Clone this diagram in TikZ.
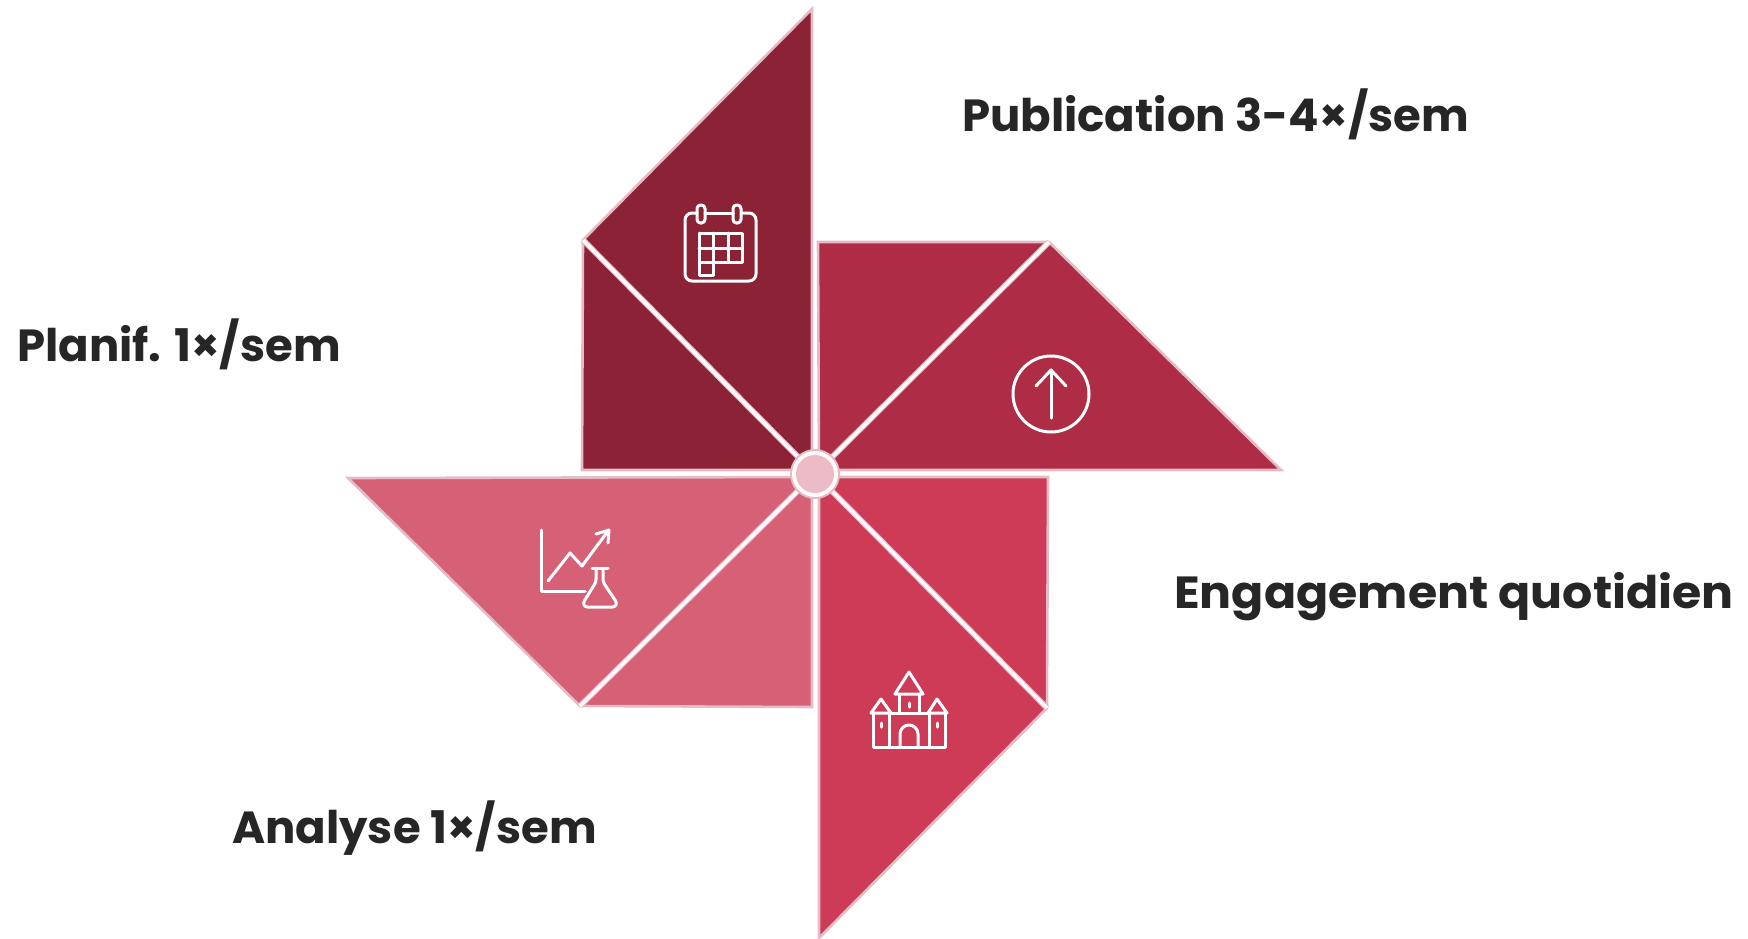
\documentclass[tikz,border=0pt]{standalone}
\usepackage{fontspec}
\usepackage{graphicx}
\setmainfont{Poppins}
\definecolor{cA}{HTML}{8B2236}
\definecolor{cB}{HTML}{AE2C45}
\definecolor{cC}{HTML}{CD3B56}
\definecolor{cD}{HTML}{D66177}
\definecolor{edge}{HTML}{E3BCC5}
\definecolor{hubfill}{HTML}{EDBBC6}
\definecolor{ink}{HTML}{262626}
\tikzset{x=1pt,y=-1pt,
 blade/.style={draw=edge,line width=2.6pt,line join=miter},
 fold/.style={draw=edge,line width=5.8pt},
 foldcore/.style={draw=white!88!edge,line width=3.6pt},
 icon/.style={draw=white,line width=3pt,line cap=round,line join=round},
 lab/.style={font=\bfseries\fontsize{45}{50}\selectfont,text=ink,inner sep=0pt,anchor=base west}}
\begin{document}
\begin{tikzpicture}
\useasboundingbox (0,0) rectangle (1748,938);
\coordinate (c) at (815,474);
% blades
\fill[cA] (812,9) -- (583,240) -- (582,470) -- (812,470) -- cycle;
\draw[blade] (812,9) -- (583,240) -- (582,470) -- (812,470) -- cycle;
\fill[cB] (818,242) -- (1049,242) -- (1281,470) -- (819,470) -- cycle;
\draw[blade] (818,242) -- (1049,242) -- (1281,470) -- (819,470) -- cycle;
\fill[cC] (819,477) -- (1048,477) -- (1047,708) -- (819,938) -- cycle;
\draw[blade] (819,477) -- (1048,477) -- (1047,708) -- (819,938) -- cycle;
\fill[cD] (348,478) -- (812,477) -- (812,707) -- (580,706) -- cycle;
\draw[blade] (348,478) -- (812,477) -- (812,707) -- (580,706) -- cycle;
% folds
\coordinate (f1) at (583,240);
\coordinate (f2) at (1049,242);
\coordinate (f3) at (1047,708);
\coordinate (f4) at (580,706);
\foreach \p in {f1,f2,f3,f4} {\draw[fold] (\p) -- (c); \draw[foldcore] (\p) -- (c);}
% hub
\fill[edge] (c) circle (25pt);
\fill[white!92!edge] (c) circle (23pt);
\node (hub) at (c) [circle,minimum size=38pt,inner sep=0pt,fill=hubfill] {};
% labels
\node[lab] (l1) at (962,131) {Publication 3-4×/sem};
\node[lab] (l2) at (17,361) {Planif. 1×/sem};
\node[lab] (l3) at (1174,608) {\scalebox{1.055}[1]{Engagement quotidien}};
\node[lab] (l4) at (232,843) {Analyse 1×/sem};
% calendar icon
\begin{scope}[icon]
\draw (697,213) -- (692,213) arc[start angle=90,end angle=180,radius=7pt] -- (685,274) arc[start angle=180,end angle=270,radius=7pt] -- (749,281) arc[start angle=270,end angle=360,radius=7pt]-- (756,220) arc[start angle=0,end angle=90,radius=7pt] -- (742,213);
\draw (705,213) -- (733,213);
\draw[rounded corners=3.5pt] (697,205) rectangle (705,223);
\draw[rounded corners=3.5pt] (733,205) rectangle (741,223);
\draw (699,233) rectangle (742,262);
\draw (699,233) -- (699,275) -- (713,275) -- (713,233);
\draw (728,233) -- (728,262);
\draw (699,248) -- (742,248);
\end{scope}
% upload icon
\begin{scope}[icon]
\draw (1051,394) circle (38pt);
\draw (1051,418) -- (1051,370);
\draw (1036,386) -- (1051,370) -- (1066,386);
\end{scope}
% chart and flask icon
\begin{scope}[icon]
\draw (541,530) -- (541,591) -- (585,591);
\draw (548,581) -- (570,553) -- (582,566) -- (608,531);
\draw (596,534) -- (609,530) -- (608,543);
\draw (592,568) -- (608,568);
\draw[rounded corners=2.5pt] (596,568) -- (596,582) -- (583,603) -- (585,607) -- (615,607) -- (617,603) -- (603,582) -- (603,568);
\end{scope}
% castle icon
\begin{scope}[icon]
\draw (909,672) -- (895,694) -- (923,694) -- cycle;
\draw (899,694) -- (899,713);
\draw (919,694) -- (919,713);
\draw (881,699) -- (871,713) -- (891,713) -- cycle;
\draw (937,699) -- (928,713) -- (947,713) -- cycle;
\draw (873,713) -- (873,747) -- (945,747) -- (945,713);
\draw (889,713) -- (889,747);
\draw (929,713) -- (929,747);
\draw (891,713) -- (928,713);
\draw (900,747) -- (900,734) arc[start angle=180,end angle=0,radius=9pt] -- (918,747);
\draw (909,703) -- (909,707);
\draw (881,723) -- (881,727);
\draw (937,723) -- (937,727);
\end{scope}
\end{tikzpicture}
\end{document}
